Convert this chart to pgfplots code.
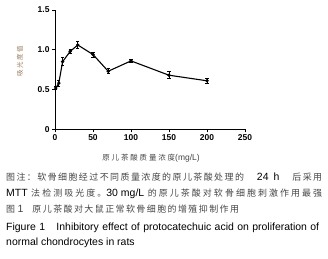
\documentclass[border=0pt]{standalone}
\usepackage{pgfplots}
\pgfplotsset{compat=1.18}
\usepackage{fontspec}
\setmainfont{Liberation Sans}
\newfontfamily\cjk[LetterSpace=16]{Noto Sans CJK SC}
\newfontfamily\cjkb[LetterSpace=23]{Noto Sans CJK SC}
\newfontfamily\cjklab[LetterSpace=25]{Noto Sans CJK SC}
\definecolor{cjkgray}{RGB}{70,70,70}
\definecolor{ylab}{RGB}{150,120,90}
\begin{document}
\begin{tikzpicture}
\path[use as bounding box] (0,0) rectangle (328bp,259bp);
\begin{axis}[
  at={(55bp,129.7bp)}, anchor=south west,
  scale only axis, width=190bp, height=119.3bp,
  xmin=0, xmax=250, ymin=0, ymax=1.5,
  axis x line*=bottom, axis y line*=left,
  axis line style={line width=0.9bp},
  tick align=outside, major tick length=3bp,
  tick style={line width=0.9bp, black},
  xtick={0,50,100,150,200,250},
  xticklabels={0,50,100,150,200,250},
  ytick={0,0.5,1,1.5},
  yticklabels={0,0.5,1.0,1.5},
  ticklabel style={font=\fontsize{8.5}{9}\selectfont\bfseries},
  xticklabel style={yshift=1bp},
  yticklabel style={xshift=1bp},
  clip=false,
]
\addplot[black, line width=1.1bp, mark=*, mark size=1.1bp,
  error bars/.cd, y dir=both, y explicit, error bar style={line width=1bp},
  error mark options={rotate=90, mark size=1.6bp, line width=0.8bp}]
  coordinates {
  (1,0.52) +- (0,0.02)
  (5,0.58) +- (0,0.04)
  (10,0.85) +- (0,0.05)
  (20,0.98) +- (0,0.03)
  (30,1.06) +- (0,0.04)
  (50,0.94) +- (0,0.03)
  (70,0.73) +- (0,0.03)
  (100,0.86) +- (0,0.025)
  (150,0.68) +- (0,0.045)
  (200,0.61) +- (0,0.035)
  };
\end{axis}
\node[rotate=90, text=ylab, font=\fontsize{6.5}{7}\selectfont, inner sep=0pt] at (20bp,197.5bp) {\cjklab 吸光度值};
\node[font=\fontsize{7.5}{8}\selectfont, inner sep=0pt, text=cjkgray] at (151bp,101bp) {{\cjklab 原儿茶酸质量浓度}\fontsize{8.5}{9}\selectfont(mg/L)};
\node[anchor=base west, inner sep=0pt, font=\fontsize{9}{10}\selectfont] at (6bp,78bp)
  {\makebox[316bp][s]{{\color{cjkgray}\cjk 图注：软骨细胞经过不同质量浓度的原儿茶酸处理的} {\fontsize{10.5}{11}\selectfont 24\hspace{5bp}h} {\color{cjkgray}\cjk 后采用}}};
\node[anchor=base west, inner sep=0pt, font=\fontsize{9}{10}\selectfont] at (6bp,62bp)
  {\makebox[316bp][s]{{\fontsize{10.5}{11}\selectfont MTT} {\color{cjkgray}\cjkb 法检测吸光度。}{\fontsize{10.5}{11}\selectfont 30\hspace{3bp}mg/L} {\color{cjkgray}\cjkb 的原儿茶酸对软骨细胞刺激作用最强}}};
\node[anchor=base west, inner sep=0pt, font=\fontsize{9}{10}\selectfont, text=cjkgray] at (6bp,46.5bp)
  {{\cjk 图}\ {\fontsize{10.5}{11}\selectfont 1}\hspace{9bp}{\cjk 原儿茶酸对大鼠正常软骨细胞的增殖抑制作用}};
\node[anchor=base west, inner sep=0pt, font=\fontsize{10.5}{12}\selectfont] at (6bp,29bp)
  {\makebox[313bp][s]{Figure 1\hspace{8bp} Inhibitory effect of protocatechuic acid on proliferation of}};
\node[anchor=base west, inner sep=0pt, font=\fontsize{10.5}{12}\selectfont] at (6bp,14bp)
  {normal chondrocytes in rats};
\end{tikzpicture}
\end{document}
